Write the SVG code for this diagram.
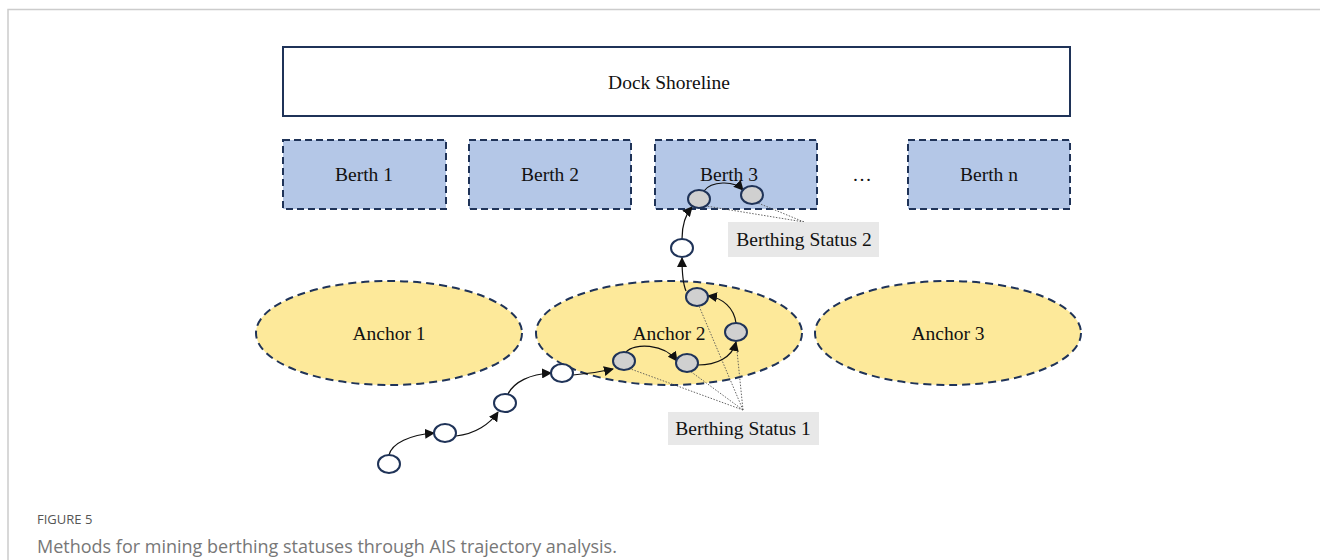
<svg xmlns="http://www.w3.org/2000/svg" width="1320" height="560" viewBox="0 0 1320 560">
  <style>
    .frame { fill: none; stroke: #cccccc; stroke-width: 1.5; }
    .shore { fill: #ffffff; stroke: #1f3358; stroke-width: 2; }
    .berth { fill: #b4c7e7; stroke: #1f3358; stroke-width: 2; stroke-dasharray: 7 4; }
    .anchor { fill: #fde99a; stroke: #1f3358; stroke-width: 2; stroke-dasharray: 8 5; }
    .pt { stroke: #1f3358; stroke-width: 2; }
    .open { fill: #ffffff; }
    .stay { fill: #d0d0d0; }
    .lbl { font-family: "Liberation Serif", "Times New Roman", serif; font-size: 19.5px; fill: #111111; text-anchor: middle; }
    .tag { fill: #e8e8e8; }
    .flow { fill: none; stroke: #111111; stroke-width: 1.2; marker-end: url(#arrow); }
    .dot { fill: none; stroke: #555555; stroke-width: 0.9; stroke-dasharray: 1.5 1.5; }
    .cap1 { font-family: "Open Sans", "Liberation Sans", sans-serif; font-size: 13px; fill: #555555; }
    .cap2 { font-family: "Open Sans", "Liberation Sans", sans-serif; font-size: 18px; fill: #777777; }
  </style>
  <defs>
    <marker id="arrow" viewBox="0 0 10 10" refX="9" refY="5" markerWidth="10" markerHeight="10" markerUnits="userSpaceOnUse" orient="auto">
      <path d="M0,0 L10,5 L0,10 z" fill="#111111"/>
    </marker>
  </defs>

  <rect width="1320" height="560" fill="#ffffff"/>
  <rect class="frame" x="8" y="9.5" width="1330" height="580"/>

  <g id="dock-shoreline">
    <rect class="shore" x="283" y="47" width="787" height="69"/>
    <text class="lbl" x="669" y="89">Dock Shoreline</text>
  </g>

  <g id="berth-1">
    <rect class="berth" x="283" y="140" width="163" height="69"/>
    <text class="lbl" x="364" y="181">Berth 1</text>
  </g>
  <g id="berth-2">
    <rect class="berth" x="469" y="140" width="162" height="69"/>
    <text class="lbl" x="550" y="181">Berth 2</text>
  </g>
  <g id="berth-3">
    <rect class="berth" x="655" y="140" width="162" height="69"/>
    <text class="lbl" x="729" y="181">Berth 3</text>
  </g>
  <g id="ellipsis">
    <text class="lbl" x="862" y="181">…</text>
  </g>
  <g id="berth-n">
    <rect class="berth" x="908" y="140" width="162" height="69"/>
    <text class="lbl" x="989" y="181">Berth n</text>
  </g>

  <g id="anchor-1">
    <ellipse class="anchor" cx="389" cy="333" rx="133" ry="52"/>
    <text class="lbl" x="389" y="340">Anchor 1</text>
  </g>
  <g id="anchor-2">
    <ellipse class="anchor" cx="669" cy="333" rx="133" ry="52"/>
    <text class="lbl" x="669" y="340">Anchor 2</text>
  </g>
  <g id="anchor-3">
    <ellipse class="anchor" cx="948" cy="333" rx="133" ry="52"/>
    <text class="lbl" x="948" y="340">Anchor 3</text>
  </g>

  <g id="status-links">
    <line class="dot" x1="743" y1="410" x2="628" y2="368"/>
    <line class="dot" x1="743" y1="410" x2="690" y2="371"/>
    <line class="dot" x1="743" y1="410" x2="736" y2="341"/>
    <line class="dot" x1="743" y1="410" x2="699" y2="306"/>
    <line class="dot" x1="804" y1="222" x2="706" y2="206"/>
    <line class="dot" x1="804" y1="222" x2="758" y2="203"/>
  </g>

  <g id="connectors">
    <path class="flow" d="M389,455 C392,443 410,435 434,433"/>
    <path class="flow" d="M456,436 C475,434 490,424 498,412"/>
    <path class="flow" d="M508,394 C514,382 530,374 551,373"/>
    <path class="flow" d="M573,375 C588,374 600,372 613,369"/>
    <path class="flow" d="M626,352 C634,343 664,343 677,361"/>
    <path class="flow" d="M698,365 C716,365 732,358 736,342"/>
    <path class="flow" d="M736,323 C734,308 723,298 708,296"/>
    <path class="flow" d="M686,291 C683,284 682,272 682,258"/>
    <path class="flow" d="M682,239 C682,225 685,215 692,207"/>
    <path class="flow" d="M704,191 C711,181 734,180 743,190"/>
  </g>

  <g id="trajectory-points">
    <ellipse class="pt open" cx="389" cy="464" rx="11" ry="9"/>
    <ellipse class="pt open" cx="445" cy="433" rx="11" ry="9"/>
    <ellipse class="pt open" cx="505" cy="403" rx="11" ry="9"/>
    <ellipse class="pt open" cx="562" cy="373" rx="11" ry="9"/>
    <ellipse class="pt stay" cx="624" cy="361" rx="11" ry="9"/>
    <ellipse class="pt stay" cx="687" cy="363" rx="11" ry="9"/>
    <ellipse class="pt stay" cx="736" cy="332" rx="11" ry="9"/>
    <ellipse class="pt stay" cx="697" cy="297" rx="11" ry="9"/>
    <ellipse class="pt open" cx="682" cy="248" rx="11" ry="9"/>
    <ellipse class="pt stay" cx="699" cy="199" rx="11" ry="9"/>
    <ellipse class="pt stay" cx="752" cy="195" rx="11" ry="9"/>
  </g>

  <g id="berthing-status-1">
    <rect class="tag" x="668" y="412" width="151" height="33"/>
    <text class="lbl" x="743" y="435">Berthing Status 1</text>
  </g>
  <g id="berthing-status-2">
    <rect class="tag" x="728" y="222" width="151" height="35"/>
    <text class="lbl" x="804" y="246">Berthing Status 2</text>
  </g>

  <g id="caption">
    <text class="cap1" x="37" y="524">FIGURE 5</text>
    <text class="cap2" x="37" y="553">Methods for mining berthing statuses through AIS trajectory analysis.</text>
  </g>
</svg>
